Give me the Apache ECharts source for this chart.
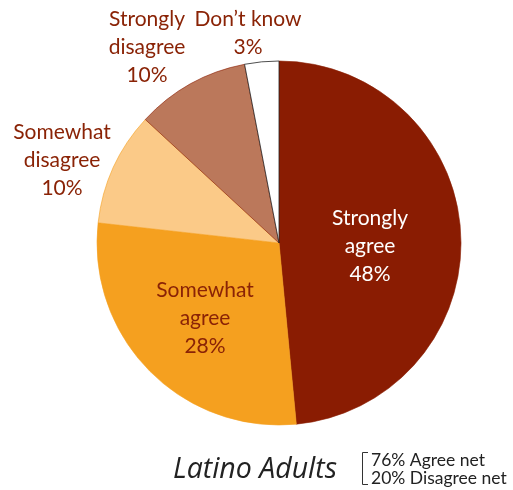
<!DOCTYPE html>
<html>
<head>
<meta charset="utf-8">
<script src="https://cdn.jsdelivr.net/npm/echarts@6/dist/echarts.min.js"></script>
<style>
  html, body { margin: 0; padding: 0; background: #fff; }
  #chart { width: 513px; height: 490px; }
</style>
</head>
<body>
<div id="chart"></div>
<script>
// Survey answers, clockwise from 12 o'clock
const categories = ['Strongly\nagree', 'Somewhat\nagree', 'Somewhat\ndisagree', 'Strongly\ndisagree', 'Don\u2019t know'];
const shares = [48, 28, 10, 10, 3];
const sliceColors = ['#8a1c02', '#f5a01f', '#fbca88', '#bb785b', '#ffffff'];
const sliceBorders = ['#8a1c02', '#f5a01f', '#f5a01f', '#8a1c02', '#222222'];
const groupTitle = 'Latino Adults';
const netLines = ['76% Agree net', '20% Disagree net'];

// Where each slice's caption sits (centre of the text block)
const labelSpots = [
  { x: 370, y: 246, color: '#ffffff' },
  { x: 205, y: 318, color: '#8a2306' },
  { x: 62, y: 160, color: '#8a2306' },
  { x: 147, y: 47, color: '#8a2306' },
  { x: 248, y: 33, color: '#8a2306' }
];

const FONT = 'Lato, "Open Sans", sans-serif';

const chart = echarts.init(document.getElementById('chart'), null, { renderer: 'canvas' });

chart.setOption({
  animation: false,
  backgroundColor: '#ffffff',
  series: [{
    type: 'pie',
    center: [279, 243],
    radius: [0, 182],
    startAngle: 90,
    clockwise: true,
    avoidLabelOverlap: false,
    silent: true,
    label: {
      show: true,
      position: 'outside',
      fontFamily: FONT,
      fontSize: 21,
      lineHeight: 28,
      align: 'center',
      formatter: p => p.name + '\n' + p.value + '%'
    },
    labelLine: { show: false },
    labelLayout: params => {
      const s = labelSpots[params.dataIndex];
      return { x: s.x, y: s.y, align: 'center', verticalAlign: 'middle', moveOverlap: false };
    },
    data: categories.map((name, i) => ({
      name: name,
      value: shares[i],
      itemStyle: {
        color: sliceColors[i],
        borderColor: sliceBorders[i],
        borderWidth: i === 4 ? 0.8 : 0.6
      },
      label: { color: labelSpots[i].color }
    }))
  }],
  graphic: [
    {
      type: 'text',
      x: 173,
      y: 470,
      style: {
        text: groupTitle,
        font: 'italic 28.5px "Open Sans", sans-serif',
        verticalAlign: 'middle',
        fill: '#222222'
      }
    },
    {
      type: 'polyline',
      shape: { points: [[368, 452.5], [362.5, 452.5], [362.5, 484.5], [368, 484.5]] },
      style: { stroke: '#333333', lineWidth: 1, fill: null }
    },
    {
      type: 'text',
      x: 371,
      y: 469,
      style: {
        text: netLines.join('\n'),
        font: '17.5px ' + FONT,
        lineHeight: 18,
        verticalAlign: 'middle',
        fill: '#222222'
      }
    }
  ]
});
</script>
</body>
</html>
